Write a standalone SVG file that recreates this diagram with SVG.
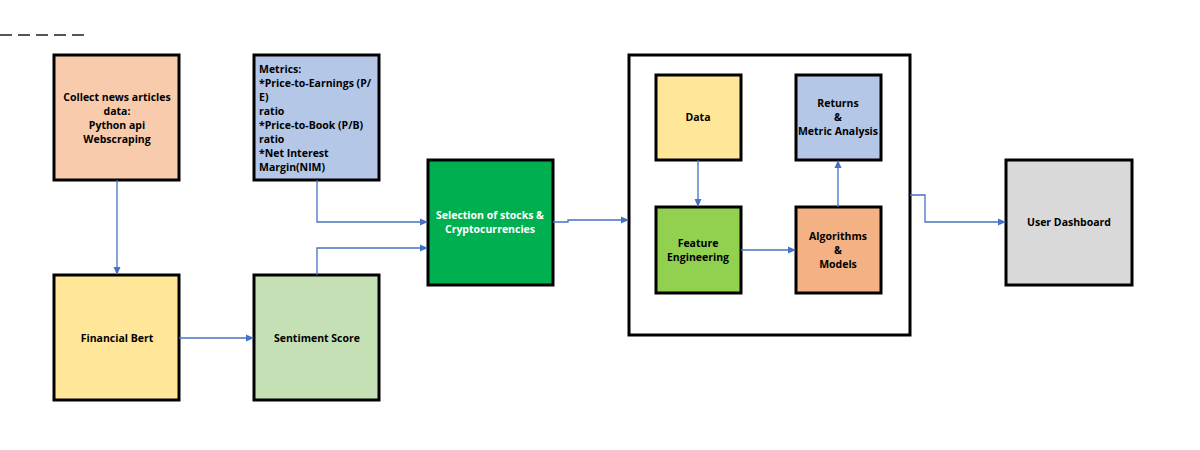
<svg xmlns="http://www.w3.org/2000/svg" width="1200" height="450" viewBox="0 0 1200 450">
<style>
.b{stroke:#000;stroke-width:3}
.t{font-family:"Open Sans","Liberation Sans",sans-serif;font-size:10.5px;font-weight:bold;fill:#000;text-anchor:middle}
.w{fill:#fff}
.c{fill:none;stroke:#4472C4;stroke-width:1.3;marker-end:url(#a)}
</style>
<defs><marker id="a" markerWidth="8" markerHeight="8" refX="7" refY="4" orient="auto" markerUnits="userSpaceOnUse"><path d="M0,0.5 L8,4 L0,7.5Z" fill="#4472C4"/></marker></defs>
<rect width="1200" height="450" fill="#fff"/>
<line x1="0" y1="35" x2="88" y2="35" stroke="#555" stroke-width="2" stroke-dasharray="12,6"/>
<g id="frame"><rect x="629" y="55" width="281" height="280" fill="#fff" class="b"/></g>
<g id="collect"><rect x="54" y="55" width="125" height="125" fill="#F8CBAD" class="b"/>
<text class="t" x="117" y="101">Collect news articles</text><text class="t" x="117" y="115">data:</text><text class="t" x="117" y="129">Python api</text><text class="t" x="117" y="143">Webscraping</text></g>
<g id="metrics"><rect x="254" y="55" width="125" height="125" fill="#B4C7E7" class="b"/>
<g class="t" style="text-anchor:start"><text x="259" y="73">Metrics:</text><text x="259" y="87">*Price-to-Earnings (P/</text><text x="259" y="101">E)</text><text x="259" y="115">ratio</text><text x="259" y="129">*Price-to-Book (P/B)</text><text x="259" y="143">ratio</text><text x="259" y="157">*Net Interest</text><text x="259" y="171">Margin(NIM)</text></g></g>
<g id="bert"><rect x="54" y="275" width="125" height="125" fill="#FFE699" class="b"/><text class="t" x="117" y="342">Financial Bert</text></g>
<g id="sentiment"><rect x="254" y="275" width="125" height="125" fill="#C5E0B4" class="b"/><text class="t" x="317" y="342">Sentiment Score</text></g>
<g id="selection"><rect x="428" y="160" width="125" height="125" fill="#00B050" class="b"/><text class="t w" x="490" y="219">Selection of stocks &amp;</text><text class="t w" x="490" y="233">Cryptocurrencies</text></g>
<g id="data"><rect x="656" y="75" width="85" height="85" fill="#FFE699" class="b"/><text class="t" x="698" y="121">Data</text></g>
<g id="returns"><rect x="796" y="75" width="85" height="85" fill="#B4C7E7" class="b"/><text class="t" x="838" y="107">Returns</text><text class="t" x="838" y="121">&amp;</text><text class="t" x="838" y="135">Metric Analysis</text></g>
<g id="feature"><rect x="656" y="207" width="85" height="86" fill="#92D050" class="b"/><text class="t" x="698" y="247">Feature</text><text class="t" x="698" y="261">Engineering</text></g>
<g id="algo"><rect x="796" y="207" width="85" height="86" fill="#F4B183" class="b"/><text class="t" x="838" y="240">Algorithms</text><text class="t" x="838" y="254">&amp;</text><text class="t" x="838" y="268">Models</text></g>
<g id="dashboard"><rect x="1006" y="160" width="126" height="125" fill="#D9D9D9" class="b"/><text class="t" x="1069" y="226">User Dashboard</text></g>
<g id="connectors">
<path class="c" d="M117,180 V274"/>
<path class="c" d="M179,338 H253"/>
<path class="c" d="M317,180 V222 H427"/>
<path class="c" d="M317,275 V248 H427"/>
<path class="c" d="M553,222 H568 V220 H628"/>
<path class="c" d="M698,160 V206"/>
<path class="c" d="M741,250 H795"/>
<path class="c" d="M838,207 V161"/>
<path class="c" d="M910,195 H925 V222 H1005"/>
</g>
</svg>
